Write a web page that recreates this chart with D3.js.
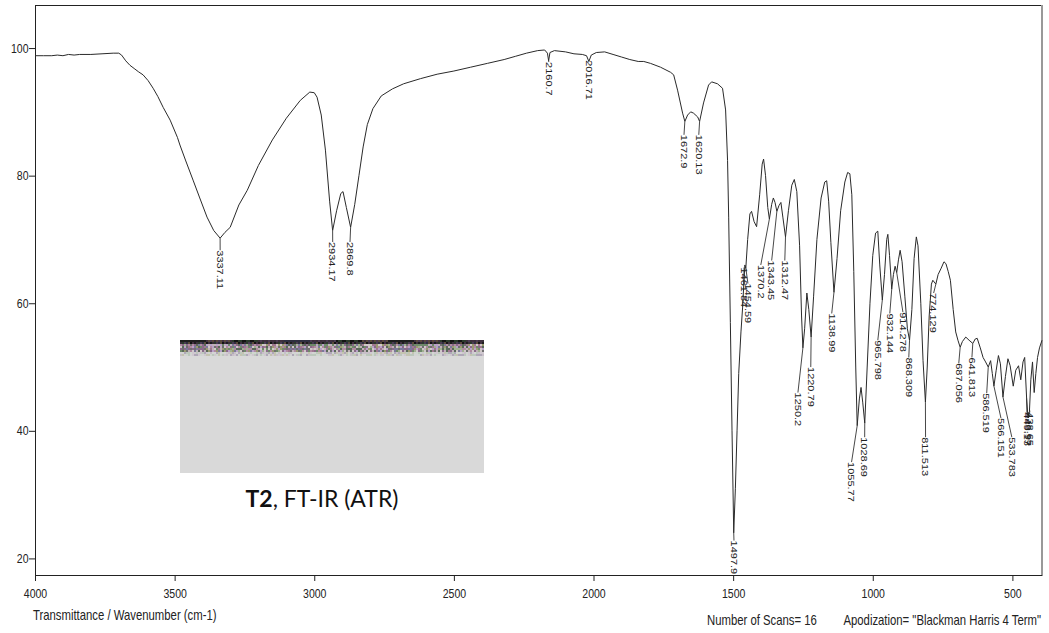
<!DOCTYPE html>
<html><head><meta charset="utf-8">
<script src="https://cdn.jsdelivr.net/npm/d3@7"></script>
<style>body{margin:0;background:#fff} svg{display:block}</style>
</head><body>
<svg id="chart" width="1049" height="633"></svg>
<script>
// ---------- data ----------
const wavenumbers = [4000,3970,3940,3920,3900,3880,3860,3840,3800,3760,3720,3700,3690,3675,3660,3645,3630,3613,3595,3577,3560,3541,3516,3490,3481,3460,3434,3410,3384,3360,3337.11,3320,3301,3270,3240,3200,3150,3100,3050,3016,3000,2990,2975,2960,2945,2934.17,2920,2905,2897,2885,2869.8,2855,2840,2825,2810,2790,2760,2720,2680,2620,2560,2500,2440,2380,2320,2280,2240,2200,2175,2165,2160.7,2156,2140,2100,2070,2040,2025,2016.71,2008,1990,1960,1930,1900,1870,1840,1820,1796,1760,1724,1713,1699,1681,1672.9,1663,1652,1642,1627,1620.13,1606,1588,1577,1556,1538,1527,1520,1516,1510,1504,1497.9,1492,1486,1480,1472,1466,1461.84,1458,1454.59,1448,1440,1434,1425,1416,1405,1396,1391,1384,1376,1370.2,1362,1356,1350,1343.45,1336,1329,1322,1312.47,1302,1290,1281,1272,1262,1255,1250.2,1244,1236,1229,1220.79,1212,1200,1185,1172,1165,1158,1150,1138.99,1128,1115,1100,1090,1082,1075,1068,1061,1055.77,1048,1042,1036,1028.69,1020,1010,1000,990,982,975,965.798,958,950,946,940,932.144,926,920,914.278,908,902,895,885,876,868.309,860,852,844,838,828,820,811.513,805,798,790,785,774.129,766,755,745,738,730,722,712,703,695,687.056,679,667,655,641.813,633,626,615,605,596,586.519,578,572,566.151,558,550,543,533.783,525,516,508,497,488,478,470,462,456,449,444,439,434,428,422,416,410,403,394];
const transmittance = [98.8,98.8,98.8,98.9,98.8,99.0,98.9,99.0,99.0,99.1,99.2,99.2,98.9,98.0,97.3,96.8,96.3,95.8,94.9,93.7,92.4,90.7,88.7,86.0,84.8,82.3,79.3,76.5,73.5,71.4,70.2,71.1,71.9,75.4,77.7,81.6,85.6,89.0,91.8,93.1,93.0,92.3,89.5,84.0,76.0,71.4,74.5,77.2,77.5,75.0,71.9,75.5,80.0,84.5,88.0,90.5,92.5,93.6,94.4,95.2,95.9,96.4,97.0,97.6,98.2,98.7,99.2,99.6,99.7,99.2,98.0,99.3,99.6,99.4,99.1,99.0,98.8,97.9,98.9,99.3,99.4,99.0,98.6,98.2,97.9,97.9,97.6,97.0,96.2,95.8,93.4,89.8,88.5,89.5,90.0,89.8,89.2,88.5,91.4,94.2,94.7,94.4,93.7,90.3,82.4,73.5,57.0,40.0,24.0,31.0,40.0,49.0,55.5,59.4,63.0,66.0,65.5,70.0,74.0,74.4,72.8,72.0,77.0,81.8,82.6,80.0,75.0,73.2,75.5,76.5,75.8,74.4,75.3,75.8,73.5,70.4,74.5,78.5,79.4,77.5,69.0,58.0,53.0,56.0,61.6,59.0,54.7,61.0,70.0,76.5,79.0,79.2,76.0,69.5,61.7,67.0,74.5,79.0,80.5,80.3,77.0,65.0,50.0,40.8,45.0,46.8,44.5,41.2,50.0,60.0,67.5,71.0,71.3,66.0,60.5,64.5,70.0,70.8,67.5,62.2,64.5,65.8,64.8,66.8,68.3,66.5,61.0,56.0,54.2,59.0,67.0,70.4,69.0,60.0,51.0,44.5,50.0,58.0,63.0,63.6,63.0,64.5,65.5,66.5,66.2,65.0,63.6,59.0,55.5,54.2,53.1,54.0,54.7,54.2,53.7,54.4,54.5,53.0,51.5,50.8,50.0,51.0,49.0,47.0,49.5,51.8,50.5,45.3,48.5,51.3,50.2,47.0,49.5,50.2,48.0,50.8,51.5,45.0,42.0,43.0,48.0,50.8,46.0,49.0,51.5,53.0,54.2];

const peakText = ["3337.11","2934.17","2869.8","2160.7","2016.71","1672.9","1620.13","1497.9","1461.84","1454.59","1370.2","1343.45","1312.47","1250.2","1220.79","1138.99","1055.77","1028.69","965.798","932.144","914.278","868.309","811.513","774.129","687.056","641.813","586.519","566.151","533.783","449.13","443.97","438.65"];
// where each peak label's text starts (wavenumber, %T)
const labelWn = [3337,2934,2872,2160,2017,1676,1623,1497,1461,1447,1401,1362,1315,1268,1222,1147,1076,1029,982,939,892,871,811,782,692,645,592,541,502,448,443,437.5];
const labelT = [68.3,69.6,69.6,97.8,98.1,86.4,86.4,22.8,65.6,63.1,66.0,66.7,66.7,46.0,50.0,58.4,35.1,39.0,54.2,58.4,58.6,51.5,39.0,61.6,50.6,51.5,45.9,42.0,39.0,42.9,42.9,42.9];

const xTicks = [4000,3500,3000,2500,2000,1500,1000,500];
const yTicks = [20,40,60,80,100];
const xTitle = "Transmittance / Wavenumber (cm-1)";
const footerLeft = "Number of Scans= 16";
const footerRight = "Apodization= \"Blackman Harris 4 Term\"";
const captionBold = "T2";
const captionRest = ", FT-IR (ATR)";

// ---------- drawing ----------
const svg = d3.select("#chart");
const L = 35, R = 1042, TOP = 5, B = 575;
const SQ = 0.81; // horizontal squeeze of the original text
const FONT = "'Liberation Sans', Arial, sans-serif";
const INK = "#222";

const x = d3.scaleLinear().domain([4000, 394]).range([L, R]);
const y = d3.scaleLinear().domain([17.4, 106.75]).range([B, TOP]);

svg.append("rect").attr("width",1049).attr("height",633).attr("fill","#fff");

// frame
svg.append("line").attr("x1",L).attr("x2",R).attr("y1",TOP+0.5).attr("y2",TOP+0.5).attr("stroke",INK);
svg.append("line").attr("x1",R).attr("x2",R).attr("y1",TOP).attr("y2",B).attr("stroke","#999").attr("stroke-width",2);

// axes
const gx = svg.append("g").attr("transform",`translate(0,${B})`)
  .call(d3.axisBottom(x).tickValues(xTicks).tickSize(6).tickSizeOuter(0).tickFormat(d3.format("d")));
gx.select(".domain").attr("stroke",INK);
gx.selectAll(".tick line").attr("stroke",INK);
gx.selectAll(".tick text").attr("y",0).attr("dy",null)
  .attr("transform",`translate(0,23) scale(${SQ},1)`)
  .style("font-family",FONT).style("font-size","13px").attr("fill",INK);

const gy = svg.append("g").attr("transform",`translate(${L},0)`)
  .call(d3.axisLeft(y).tickValues(yTicks).tickSize(6).tickSizeOuter(0).tickPadding(2).tickFormat(d3.format("d")));
gy.select(".domain").attr("stroke",INK);
gy.selectAll(".tick line").attr("stroke",INK);
gy.selectAll(".tick text").attr("transform",`scale(${SQ},1)`)
  .style("font-family",FONT).style("font-size","13px").attr("fill",INK);

// spectrum
const pts = wavenumbers.map((w,i)=>[w, transmittance[i]]);
svg.append("path").datum(pts)
  .attr("d", d3.line().x(d=>x(d[0])).y(d=>y(d[1])))
  .attr("fill","none").attr("stroke","#2a2a2a").attr("stroke-width",1);

function interpT(w){
  for (let i=0;i<wavenumbers.length-1;i++){
    const a=wavenumbers[i], b=wavenumbers[i+1];
    if (w<=a && w>=b){ const t=(a-w)/(a-b); return transmittance[i]+(transmittance[i+1]-transmittance[i])*t; }
  }
  return transmittance[transmittance.length-1];
}

// peak labels
const gl = svg.append("g");
peakText.forEach((t,i)=>{
  const w = +t;
  const cx = x(w), cy = y(interpT(w));
  const lx = x(labelWn[i]), ly = y(labelT[i]);
  gl.append("line").attr("x1",cx).attr("y1",cy).attr("x2",lx).attr("y2",ly)
    .attr("stroke","#333").attr("stroke-width",0.9);
  gl.append("text").attr("transform",`translate(${lx},${ly}) scale(${SQ},1) rotate(90)`)
    .attr("dy","0.36em").style("font-family",FONT).style("font-size","11px")
    .attr("fill",INK).text(t);
});

// axis title and footer
svg.append("text").attr("transform",`translate(33,620) scale(${SQ},1)`)
  .style("font-family",FONT).style("font-size","14px").attr("fill",INK).text(xTitle);
svg.append("text").attr("transform",`translate(707,625) scale(${SQ},1)`)
  .style("font-family",FONT).style("font-size","14px").attr("fill",INK).text(footerLeft);
svg.append("text").attr("transform",`translate(1041,625) scale(${SQ},1)`).attr("text-anchor","end")
  .style("font-family",FONT).style("font-size","14px").attr("fill",INK).text(footerRight);

// grey inset box with a noisy top strip
const bx0 = 180, bx1 = 484, by0 = 340, by1 = 473;
svg.append("rect").attr("x",bx0).attr("y",by0).attr("width",bx1-bx0).attr("height",by1-by0).attr("fill","#d9d9d9");
const darkPal = ["#1e1e1e","#3a2f3a","#2b3a2b","#4a3b52","#2e2e40","#5a4a3a","#141414","#403040"];
const midPal = ["#8a6a8a","#6f8a6a","#b08aa0","#9a9a70","#7a7a9a","#c0b0b8","#a0b090","#d0c8c8","#707070","#b8a0c8","#5a6a5a","#a07890"];
const lightPal = ["#c8c0c8","#bcc8bc","#d0c8d0","#c4c4b0","#d4d4d4","#b0a8b8","#cfd6cf"];
const cell = 2, rows = 8, cols = Math.floor((bx1-bx0)/cell);
const gn = svg.append("g");
for (let r=0;r<rows;r++){
  const pal = r<2 ? darkPal : (r<6 ? midPal : lightPal);
  for (let c=0;c<cols;c++){
    const h = (((c+1)*2654435761) ^ ((r+7)*40503*(c%13+1))) >>> 0;
    gn.append("rect").attr("x",bx0+c*cell).attr("y",by0+r*cell).attr("width",cell).attr("height",cell)
      .attr("fill", pal[h % pal.length]);
  }
}

// caption
const cap = svg.append("text").attr("x",322).attr("y",507).attr("text-anchor","middle")
  .style("font-family","Lato, 'Open Sans', sans-serif").style("font-size","23px").attr("fill","#111");
cap.append("tspan").style("font-weight","bold").text(captionBold);
cap.append("tspan").text(captionRest);
</script>
</body></html>
